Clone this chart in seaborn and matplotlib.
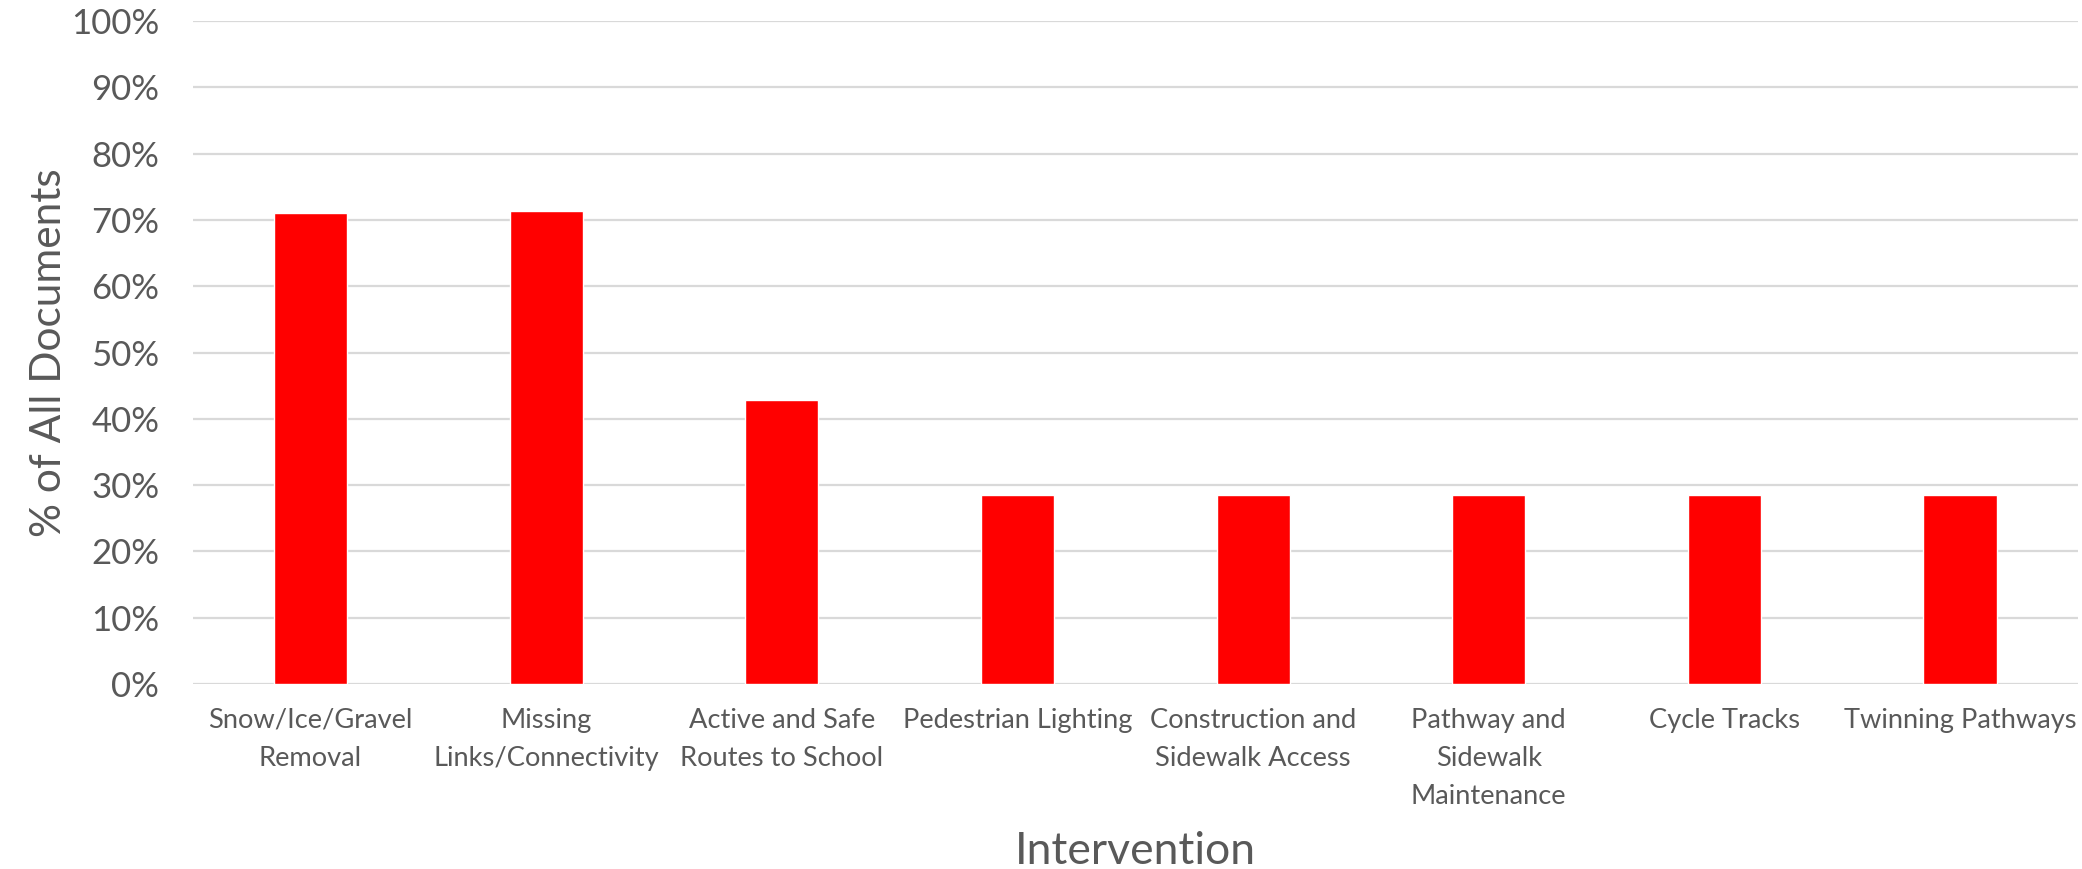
import matplotlib
matplotlib.use("Agg")

import matplotlib.pyplot as plt
import pandas as pd
import seaborn as sns
from matplotlib.ticker import PercentFormatter

# values (share of all documents)
interventions = [
    "Snow/Ice/Gravel\nRemoval",
    "Missing\nLinks/Connectivity",
    "Active and Safe\nRoutes to School",
    "Pedestrian Lighting",
    "Construction and\nSidewalk Access",
    "Pathway and\nSidewalk\nMaintenance",
    "Cycle Tracks",
    "Twinning Pathways",
]
share = [0.710, 0.714, 0.4286, 0.2857, 0.2857, 0.2857, 0.2857, 0.2857]
y_ticks = [0.0, 0.1, 0.2, 0.3, 0.4, 0.5, 0.6, 0.7, 0.8, 0.9, 1.0]

TEXT = "#595959"
GRID = "#d9d9d9"
BAR = "#FF0000"

sns.set_theme(style="white")
plt.rcParams["font.family"] = ["Lato", "DejaVu Sans"]

df = pd.DataFrame({"Intervention": interventions, "Share": share})

fig = plt.figure(figsize=(20.82, 8.69), dpi=100)
ax = fig.add_axes([0.0925, 0.2129, 0.9055, 0.7629])

sns.barplot(data=df, x="Intervention", y="Share", color=BAR, saturation=1,
            width=0.31, ax=ax)

ax.set_ylim(0, 1)
ax.set_xlim(-0.5, len(interventions) - 0.5)
ax.set_yticks(y_ticks)
ax.yaxis.set_major_formatter(PercentFormatter(1.0, decimals=0))
ax.grid(axis="y", color=GRID, linewidth=1.6)
ax.set_axisbelow(True)
for s in ax.spines.values():
    s.set_visible(False)

ax.tick_params(axis="y", length=0, pad=24, labelsize=25, labelcolor=TEXT)
ax.tick_params(axis="x", length=0, pad=17, labelsize=19.6, labelcolor=TEXT)
for lbl in ax.get_xticklabels():
    lbl.set_linespacing(1.65)

ax.set_xlabel("Intervention", fontsize=32, color=TEXT)
ax.xaxis.label.set_va("center")
ax.xaxis.set_label_coords(0.5, -0.253)
ax.set_ylabel("% of All Documents", fontsize=30.5, color=TEXT, labelpad=2)

fig.savefig("out.png", dpi=100)
